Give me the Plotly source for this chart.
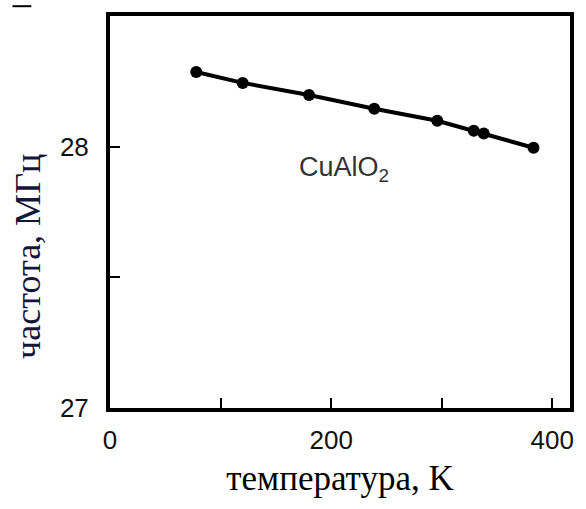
import plotly.graph_objects as go

temperature_K = [78, 120, 180, 239, 296, 329, 338, 383]
frequency_MHz = [28.286, 28.244, 28.198, 28.145, 28.099, 28.061, 28.050, 27.996]

x_tickvals = [0, 100, 200, 300, 400]
x_ticktext = ["0", "", "200", "", "400"]
y_tickvals = [27, 27.5, 28]
y_ticktext = ["27", "", "28"]

fig = go.Figure()
fig.add_trace(go.Scatter(
    x=temperature_K, y=frequency_MHz, mode="lines+markers",
    line=dict(color="black", width=4),
    marker=dict(color="black", size=12),
    showlegend=False,
))

fig.add_annotation(x=212, y=27.915, xref="x", yref="y",
                   text="CuAlO<sub>2</sub>", showarrow=False,
                   font=dict(family="Liberation Sans, Arial", size=27, color="#333333"))

# y-axis title placed as rotated text
fig.add_annotation(x=-0.177, y=0.387, xref="paper", yref="paper",
                   text="частота, МГц", textangle=-90, showarrow=False,
                   xanchor="center", yanchor="middle",
                   font=dict(family="Liberation Serif, Times New Roman", size=36, color="#15153a"))

fig.add_shape(type="line", xref="paper", yref="paper",
              x0=-0.212, x1=-0.171, y0=1.025, y1=1.025,
              line=dict(color="black", width=2))

fig.update_layout(
    width=586, height=509,
    margin=dict(l=110, r=13, t=15, b=101),
    paper_bgcolor="white", plot_bgcolor="white",
    font=dict(family="Liberation Sans, Arial", color="#111111"),
)
fig.update_xaxes(
    range=[0, 416], tickvals=x_tickvals, ticktext=x_ticktext,
    ticks="inside", ticklen=10, tickwidth=2, tickcolor="black",
    showline=True, linewidth=4, linecolor="black", mirror=True,
    showgrid=False, zeroline=False,
    tickfont=dict(size=26, color="#111111"), ticklabelstandoff=6,
    title=dict(text="температура, K", standoff=12,
               font=dict(family="Liberation Serif, Times New Roman", size=35, color="black")),
)
fig.update_yaxes(
    range=[27, 28.5], tickvals=y_tickvals, ticktext=y_ticktext,
    ticks="inside", ticklen=10, tickwidth=2, tickcolor="black",
    showline=True, linewidth=4, linecolor="black", mirror=True,
    showgrid=False, zeroline=False,
    tickfont=dict(size=26, color="#111111"), ticklabelstandoff=12,
)

fig.write_html("out.html")
